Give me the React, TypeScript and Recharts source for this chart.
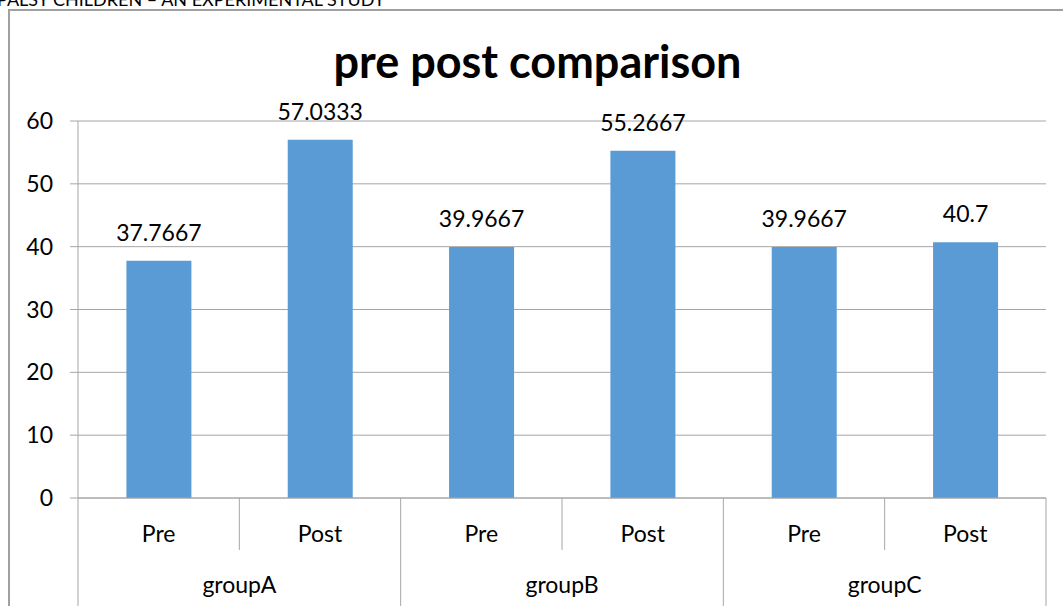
import React from 'react'
import { BarChart, Bar, XAxis, YAxis, CartesianGrid, LabelList } from 'recharts'

const subLabels = ['Pre', 'Post', 'Pre', 'Post', 'Pre', 'Post']
const groupLabels = ['groupA', 'groupA', 'groupB', 'groupB', 'groupC', 'groupC']
const scores = [37.7667, 57.0333, 39.9667, 55.2667, 39.9667, 40.7]
const scoreText = ['37.7667', '57.0333', '39.9667', '55.2667', '39.9667', '40.7']
const yTicks = [0, 10, 20, 30, 40, 50, 60]

const data = subLabels.map((s, i) => ({
  sub: s,
  group: groupLabels[i],
  score: scores[i],
  label: scoreText[i],
}))

const W = 1063
const H = 606
const M = { top: 121, right: 17, left: 0, bottom: 0 }
const Y_W = 78
const X_H = 108
const GRID = '#a6a6a6'
const FONT = 'Lato, "Open Sans", sans-serif'
const FS = 23

// band width of one category, from the layout above
const band = (W - M.left - M.right - Y_W) / data.length

const TwoLevelTick = (props: any) => {
  const { x, y, payload, index } = props
  const i = index ?? payload.index
  const left = x - band / 2
  const startsGroup = i % 2 === 0
  return (
    <g>
      <line x1={left} y1={y} x2={left} y2={startsGroup ? H : y + 52} stroke={GRID} />
      {i === data.length - 1 && (
        <line x1={x + band / 2} y1={y} x2={x + band / 2} y2={H} stroke={GRID} />
      )}
      <text x={x} y={y + 44} textAnchor="middle" fontSize={FS} fill="#000" fontFamily={FONT}>
        {payload.value}
      </text>
      {!startsGroup && (
        <text x={left} y={y + 95} textAnchor="middle" fontSize={FS} fill="#000" fontFamily={FONT}>
          {groupLabels[i]}
        </text>
      )}
    </g>
  )
}

const App = () => {
  return (
    <div style={{ position: 'absolute', left: 0, top: 0, width: W, height: H, overflow: 'hidden', background: '#fff' }}>
      <div style={{ position: 'absolute', left: -3, top: -12, fontFamily: FONT, fontSize: 18, color: '#000', whiteSpace: 'nowrap' }}>
        PALSY CHILDREN – AN EXPERIMENTAL STUDY
      </div>
      <div style={{ position: 'absolute', left: 8, top: 9, width: W, height: H, border: '2px solid #a0a0a0', boxSizing: 'border-box' }} />
      <div style={{ position: 'absolute', left: 0, top: 34, width: 1075, textAlign: 'center', fontFamily: FONT, fontWeight: 'bold', fontSize: 45, color: '#000' }}>
        pre post comparison
      </div>
      <div style={{ position: 'absolute', left: 0, top: 0 }}>
        <BarChart width={W} height={H} data={data} margin={M} barCategoryGap="30%">
          <CartesianGrid vertical={false} stroke={GRID} />
          <XAxis
            dataKey="sub"
            height={X_H}
            interval={0}
            axisLine={{ stroke: GRID }}
            tickLine={false}
            tickSize={0}
            tickMargin={0}
            tick={<TwoLevelTick />}
          />
          <YAxis
            width={Y_W}
            domain={[0, 60]}
            ticks={yTicks}
            interval={0}
            axisLine={{ stroke: GRID }}
            tickLine={{ stroke: GRID }}
            tickSize={8}
            tickMargin={17}
            tick={{ fontSize: FS, fill: '#000', fontFamily: FONT }}
          />
          <Bar dataKey="score" fill="#5b9bd5" isAnimationActive={false}>
            <LabelList dataKey="label" position="top" offset={20} fontSize={FS} fill="#000" fontFamily={FONT} />
          </Bar>
        </BarChart>
      </div>
    </div>
  )
}

export default App
